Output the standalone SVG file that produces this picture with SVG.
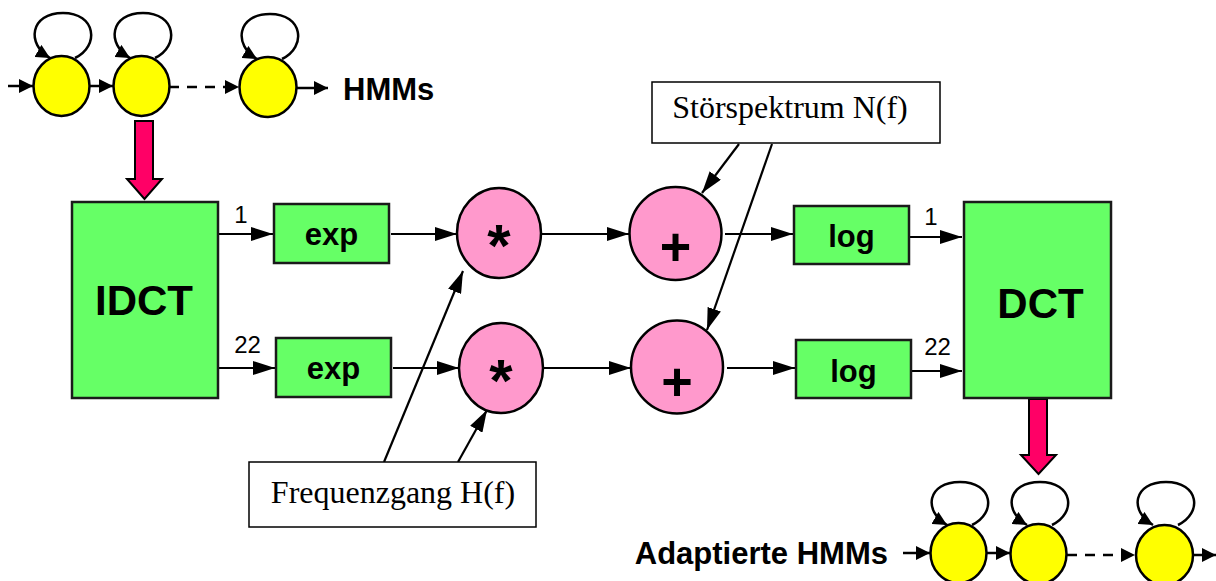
<svg xmlns="http://www.w3.org/2000/svg" width="1216" height="581" viewBox="0 0 1216 581">
<style>
.box{fill:#66FF66;stroke:#1a1a1a;stroke-width:2.5}
.op{fill:#FF99CC;stroke:#000;stroke-width:2.5}
.st{fill:#FFFF00;stroke:#000;stroke-width:2.5}
.lbl{fill:#fff;stroke:#000;stroke-width:1.5}
.big{font-family:"Liberation Sans",Arial,sans-serif;font-weight:bold;fill:#000;text-anchor:middle}
.num{font-family:"Liberation Sans",Arial,sans-serif;font-size:24px;fill:#000;text-anchor:middle}
.ser{font-family:"Liberation Serif","Times New Roman",serif;font-size:32px;fill:#000;text-anchor:middle}
.ln{stroke:#000;stroke-width:2.2;fill:none;marker-end:url(#ah)}
.sl{stroke:#000;stroke-width:2.5;fill:none;marker-end:url(#ahs)}
.bar{fill:#FF0066;stroke:#000;stroke-width:2}
</style>
<defs>
<marker id="ah" markerUnits="userSpaceOnUse" markerWidth="22" markerHeight="14" refX="22" refY="7" orient="auto">
<path d="M0,0 L22,7 L0,14 z" fill="#000"/>
</marker>
<marker id="ahs" markerUnits="userSpaceOnUse" markerWidth="14" markerHeight="14" refX="14" refY="7" orient="auto">
<path d="M0,0 L14,7 L0,14 z" fill="#000"/>
</marker>
</defs>

<g id="connectors">
<!-- top HMM -->
<line class="sl" x1="8" y1="86" x2="33" y2="86"/>
<line class="sl" x1="90" y1="86" x2="113" y2="86"/>
<line class="sl" x1="169" y1="87" x2="239" y2="87" stroke-dasharray="10,8"/>
<line class="sl" x1="297" y1="88" x2="328" y2="88"/>
<path class="sl" d="M75,58 C100,46 96,13 63,13 C30,13 26,44 50,58"/>
<path class="sl" d="M155,58 C180,46 176,13 143,13 C110,13 106,44 130,58"/>
<path class="sl" d="M282,59 C307,47 303,14 270,14 C237,14 233,45 257,59"/>
<!-- bottom HMM -->
<line class="sl" x1="903" y1="553" x2="930" y2="553"/>
<line class="sl" x1="986" y1="553" x2="1010" y2="553"/>
<line class="sl" x1="1067" y1="555" x2="1135" y2="555" stroke-dasharray="10,8"/>
<line class="sl" x1="1193" y1="555" x2="1216" y2="555"/>
<path class="sl" d="M972,525 C997,513 993,482 960,482 C927,482 923,511 947,525"/>
<path class="sl" d="M1052,525 C1077,513 1073,482 1040,482 C1007,482 1003,511 1027,525"/>
<path class="sl" d="M1178,525 C1203,513 1199,482 1166,482 C1133,482 1129,511 1153,525"/>
<!-- main flow -->
<line class="ln" x1="218" y1="234" x2="273" y2="234"/>
<line class="ln" x1="218" y1="368" x2="275" y2="368"/>
<line class="ln" x1="391" y1="234" x2="457" y2="234"/>
<line class="ln" x1="393" y1="368" x2="459" y2="368"/>
<line class="ln" x1="541" y1="234" x2="629" y2="234"/>
<line class="ln" x1="543" y1="368" x2="631" y2="368"/>
<line class="ln" x1="725" y1="234" x2="793" y2="234"/>
<line class="ln" x1="727" y1="368" x2="795" y2="368"/>
<line class="ln" x1="909" y1="237" x2="962" y2="237"/>
<line class="ln" x1="911" y1="371" x2="962" y2="371"/>
<line class="ln" x1="739" y1="144" x2="702" y2="193"/>
<line class="ln" x1="772" y1="144" x2="707" y2="330"/>
<line class="ln" x1="384" y1="462" x2="463" y2="271"/>
<line class="ln" x1="458" y1="462" x2="487" y2="410"/>
<polygon class="bar" points="135,121 153,121 153,179 162,179 144.5,199 127,179 135,179"/>
<polygon class="bar" points="1029,399 1047,399 1047,455 1056,455 1038.5,474 1021,455 1029,455"/>
</g>

<g id="hmm-top">
<ellipse class="st" cx="61.5" cy="86" rx="28" ry="30"/>
<ellipse class="st" cx="141.5" cy="86" rx="28" ry="30"/>
<ellipse class="st" cx="268" cy="87" rx="28.5" ry="30"/>
<text class="big" x="343" y="100" font-size="31" text-anchor="start" style="text-anchor:start">HMMs</text>
</g>

<g id="hmm-bottom">
<ellipse class="st" cx="958.5" cy="553" rx="28" ry="30"/>
<ellipse class="st" cx="1038.5" cy="554" rx="28" ry="30"/>
<ellipse class="st" cx="1164.5" cy="555" rx="28.5" ry="30"/>
<text class="big" x="888" y="564" font-size="31" style="text-anchor:end">Adaptierte HMMs</text>
</g>

<g id="idct">
<rect class="box" x="72" y="202" width="146" height="196"/>
<text class="big" x="144" y="315" font-size="42">IDCT</text>
<text class="num" x="241" y="223">1</text>
<text class="num" x="247.5" y="353">22</text>
</g>

<g id="exp1">
<rect class="box" x="274" y="204" width="115" height="59"/>
<text class="big" x="331.5" y="245" font-size="31">exp</text>
</g>
<g id="exp2">
<rect class="box" x="276" y="338" width="115" height="59"/>
<text class="big" x="333.5" y="379" font-size="31">exp</text>
</g>

<g id="mul1">
<ellipse class="op" cx="499" cy="233" rx="42" ry="45"/>
<text class="big" x="499" y="266" font-size="60">*</text>
</g>
<g id="mul2">
<ellipse class="op" cx="501" cy="368" rx="42" ry="45"/>
<text class="big" x="501" y="401" font-size="60">*</text>
</g>

<g id="add1">
<ellipse class="op" cx="675.5" cy="233.5" rx="46" ry="46.5"/>
<text class="big" x="675.5" y="265" font-size="54">+</text>
</g>
<g id="add2">
<ellipse class="op" cx="677" cy="367" rx="46" ry="46.5"/>
<text class="big" x="677" y="400" font-size="54">+</text>
</g>

<g id="log1">
<rect class="box" x="794" y="206" width="115" height="58"/>
<text class="big" x="851.5" y="247" font-size="31">log</text>
</g>
<g id="log2">
<rect class="box" x="796" y="340" width="115" height="58"/>
<text class="big" x="853.5" y="382" font-size="31">log</text>
</g>

<g id="dct">
<rect class="box" x="964" y="202" width="147" height="196"/>
<text class="big" x="1040.5" y="318" font-size="42">DCT</text>
<text class="num" x="931" y="225">1</text>
<text class="num" x="937.5" y="355">22</text>
</g>

<g id="noise">
<rect class="lbl" x="652" y="82" width="288" height="61"/>
<text class="ser" x="790" y="118">Störspektrum N(f)</text>
</g>

<g id="freq">
<rect class="lbl" x="249" y="462" width="287" height="65"/>
<text class="ser" x="393" y="503">Frequenzgang H(f)</text>
</g>
</svg>
